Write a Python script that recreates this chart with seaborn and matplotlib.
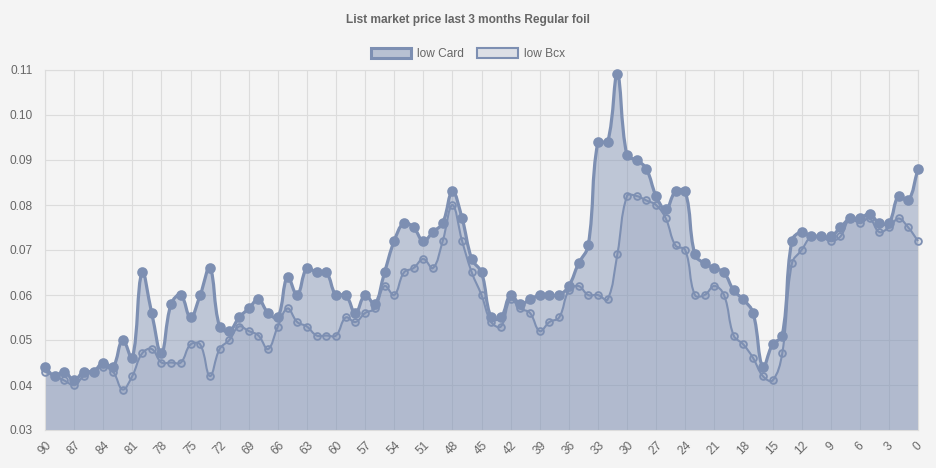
import numpy as np
import pandas as pd
import matplotlib
matplotlib.use("Agg")
import matplotlib.pyplot as plt
from matplotlib.path import Path
from matplotlib.patches import PathPatch, Rectangle
import seaborn as sns

# ------------ data ---------------------------------
days_ago = list(range(90, -1, -1))  # 90 ... 0

low_card = [
    0.044, 0.042, 0.043, 0.041, 0.043, 0.043, 0.045, 0.044, 0.050, 0.046,  # 90-81
    0.065, 0.056, 0.047, 0.058, 0.060, 0.055, 0.060, 0.066, 0.053, 0.052,  # 80-71
    0.055, 0.057, 0.059, 0.056, 0.055, 0.064, 0.060, 0.066, 0.065, 0.065,  # 70-61
    0.060, 0.060, 0.056, 0.060, 0.058, 0.065, 0.072, 0.076, 0.075, 0.072,  # 60-51
    0.074, 0.076, 0.083, 0.077, 0.068, 0.065, 0.055, 0.055, 0.060, 0.058,  # 50-41
    0.059, 0.060, 0.060, 0.060, 0.062, 0.067, 0.071, 0.094, 0.094, 0.109,  # 40-31
    0.091, 0.090, 0.088, 0.082, 0.079, 0.083, 0.083, 0.069, 0.067, 0.066,  # 30-21
    0.065, 0.061, 0.059, 0.056, 0.044, 0.049, 0.051, 0.072, 0.074, 0.073,  # 20-11
    0.073, 0.073, 0.075, 0.077, 0.077, 0.078, 0.076, 0.076, 0.082, 0.081,  # 10-1
    0.088,                                                                 # 0
]

low_bcx = [
    0.043, 0.042, 0.041, 0.040, 0.042, 0.043, 0.044, 0.043, 0.039, 0.042,  # 90-81
    0.047, 0.048, 0.045, 0.045, 0.045, 0.049, 0.049, 0.042, 0.048, 0.050,  # 80-71
    0.053, 0.052, 0.051, 0.048, 0.053, 0.057, 0.054, 0.053, 0.051, 0.051,  # 70-61
    0.051, 0.055, 0.054, 0.056, 0.057, 0.062, 0.060, 0.065, 0.066, 0.068,  # 60-51
    0.066, 0.072, 0.080, 0.072, 0.065, 0.060, 0.054, 0.053, 0.059, 0.057,  # 50-41
    0.056, 0.052, 0.054, 0.055, 0.061, 0.062, 0.060, 0.060, 0.059, 0.069,  # 40-31
    0.082, 0.082, 0.081, 0.080, 0.077, 0.071, 0.070, 0.060, 0.060, 0.062,  # 30-21
    0.060, 0.051, 0.049, 0.046, 0.042, 0.041, 0.047, 0.067, 0.070, 0.073,  # 20-11
    0.073, 0.072, 0.073, 0.077, 0.076, 0.077, 0.074, 0.075, 0.077, 0.075,  # 10-1
    0.072,                                                                 # 0
]

TITLE = "List market price last 3 months Regular foil"
y_ticks = [0.03, 0.04, 0.05, 0.06, 0.07, 0.08, 0.09, 0.10, 0.11]

df = pd.DataFrame({"day": days_ago, "idx": range(len(days_ago)),
                   "low Card": low_card, "low Bcx": low_bcx})

# ------------ style --------------
BG = "#f4f4f4"
LINE = "#7d8fb2"
GRID = "#dcdcdc"
TXT = "#666666"
RGB = (125 / 255, 143 / 255, 178 / 255)

sns.set_theme(style="white")
plt.rcParams["font.family"] = ["Liberation Sans", "DejaVu Sans"]

W, H = 936, 468
fig = plt.figure(figsize=(W / 100, H / 100), dpi=100, facecolor=BG)
ax = fig.add_axes([45 / W, 38 / H, 873 / W, 360 / H], facecolor=BG)
ax.set_xlim(0, 90)
ax.set_ylim(0.03, 0.11)

# pixel scale, used for Chart.js style bezier tension
SX = 873 / 90
SY = 360 / 0.08


def spline_path(xs, ys, tension=0.4, base=None):
    px = np.asarray(xs, float) * SX
    py = np.asarray(ys, float) * SY
    n = len(px)
    cp_prev = np.zeros((n, 2))
    cp_next = np.zeros((n, 2))
    for i in range(n):
        a = max(i - 1, 0)
        b = min(i + 1, n - 1)
        d01 = np.hypot(px[i] - px[a], py[i] - py[a])
        d12 = np.hypot(px[b] - px[i], py[b] - py[i])
        tot = d01 + d12
        s01 = d01 / tot if tot else 0
        s12 = d12 / tot if tot else 0
        fa, fb = tension * s01, tension * s12
        cp_prev[i] = (px[i] - fa * (px[b] - px[a]), py[i] - fa * (py[b] - py[a]))
        cp_next[i] = (px[i] + fb * (px[b] - px[a]), py[i] + fb * (py[b] - py[a]))
    verts = [(px[0], py[0])]
    codes = [Path.MOVETO]
    for i in range(1, n):
        verts += [tuple(cp_next[i - 1]), tuple(cp_prev[i]), (px[i], py[i])]
        codes += [Path.CURVE4] * 3
    if base is not None:
        verts += [(px[-1], base * SY), (px[0], base * SY), (px[0], py[0])]
        codes += [Path.LINETO, Path.LINETO, Path.CLOSEPOLY]
    verts = np.array(verts) / [SX, SY]
    return Path(verts, codes)


series = [
    # name, fill alpha, line width, marker size, marker face
    ("low Bcx", 0.2, 1.5, 24, RGB + (0.2,)),
    ("low Card", 0.45, 2.3, 40, LINE),
]

for name, alpha, lw, ms, face in series:
    ys = df[name].values
    ax.add_patch(PathPatch(spline_path(df["idx"], ys, base=0.03),
                           facecolor=LINE, alpha=alpha, edgecolor="none", zorder=2))
for name, alpha, lw, ms, face in series:
    ys = df[name].values
    ax.add_patch(PathPatch(spline_path(df["idx"], ys), facecolor="none",
                           edgecolor=LINE, linewidth=lw, zorder=3, clip_on=False))
    sns.scatterplot(data=df, x="idx", y=name, ax=ax, s=ms, color=face,
                    edgecolor=LINE, linewidth=1.3, zorder=4, legend=False,
                    clip_on=False)

# ------------ axes --------------
xt = list(range(0, 91, 3))
ax.set_xticks(xt)
ax.set_xticklabels([str(days_ago[i]) for i in xt], rotation=45)
ax.set_yticks(y_ticks)
ax.set_yticklabels([f"{v:.2f}" for v in y_ticks])
ax.set_xlabel("")
ax.set_ylabel("")
ax.grid(True, color=GRID, linewidth=0.8, zorder=1)
ax.set_axisbelow(True)
for sp in ax.spines.values():
    sp.set_color(GRID)
    sp.set_linewidth(0.8)
ax.tick_params(axis="both", colors=GRID, labelcolor=TXT, labelsize=8.6,
               width=0.8, direction="out")
ax.tick_params(axis="y", pad=3, length=6)
ax.tick_params(axis="x", pad=2, length=5)

fig.text(0.5, 1 - 20 / H, TITLE, ha="center", va="center",
         fontsize=8.6, fontweight="bold", color=TXT)

handles = [
    Rectangle((0, 0), 1, 1, facecolor=RGB + (0.5,), edgecolor=LINE, linewidth=2.2),
    Rectangle((0, 0), 1, 1, facecolor=RGB + (0.2,), edgecolor=LINE, linewidth=1.5),
]
leg = fig.legend(handles, ["low Card", "low Bcx"], loc="center",
                 bbox_to_anchor=(0.5, 1 - 54 / H), ncol=2, frameon=False,
                 fontsize=8.6, handlelength=3.4, handleheight=1.0,
                 handletextpad=0.5, columnspacing=1.1)
for t in leg.get_texts():
    t.set_color(TXT)

fig.savefig("out.png", dpi=100, facecolor=BG)
